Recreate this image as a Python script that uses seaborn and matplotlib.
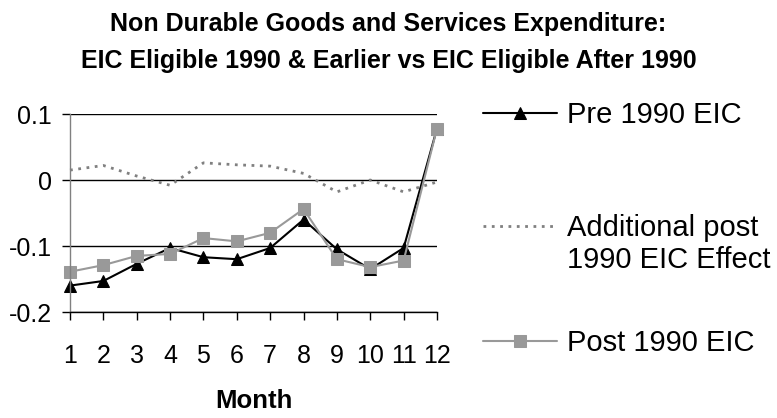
import matplotlib
matplotlib.use("Agg")
import matplotlib.pyplot as plt
import seaborn as sns
import pandas as pd

# ---- data ----
months = [1, 2, 3, 4, 5, 6, 7, 8, 9, 10, 11, 12]
month_labels = [str(m) for m in months]
pre_1990 = [-0.160, -0.153, -0.127, -0.103, -0.117, -0.120, -0.103, -0.060, -0.105, -0.135, -0.103, 0.078]
post_1990 = [-0.139, -0.129, -0.115, -0.112, -0.088, -0.093, -0.080, -0.044, -0.120, -0.132, -0.122, 0.078]
additional = [0.015, 0.022, 0.006, -0.008, 0.026, 0.023, 0.021, 0.010, -0.018, 0.000, -0.018, -0.003]
y_ticks = [-0.2, -0.1, 0.0, 0.1]
y_tick_labels = ["-0.2", "-0.1", "0", "0.1"]
series_names = ["Pre 1990 EIC", "Additional post", "Post 1990 EIC"]
additional_second_line = "1990 EIC Effect"
title = ("Non Durable Goods and Services Expenditure:\n"
         "EIC Eligible 1990 & Earlier vs EIC Eligible After 1990")

df = pd.DataFrame({"Month": months, "pre": pre_1990, "post": post_1990, "add": additional})

sns.set_theme(style="white")
plt.rcParams["font.family"] = ["Liberation Sans", "DejaVu Sans"]
plt.rcParams["axes.unicode_minus"] = False

W, H = 777, 418
fig = plt.figure(figsize=(W / 100, H / 100), dpi=100)
fig.patch.set_facecolor("white")
ax = fig.add_axes([70 / W, 1 - 312 / H, 367 / W, 198 / H])
ax.set_facecolor("white")

sns.lineplot(data=df, x="Month", y="add", ax=ax, color="#808080", lw=2,
             linestyle=(0, (1, 2)), label=series_names[1], clip_on=False)
sns.lineplot(data=df, x="Month", y="pre", ax=ax, color="black", lw=1.5,
             marker="^", markersize=9, markeredgecolor="black",
             markerfacecolor="black", label=series_names[0], clip_on=False)
sns.lineplot(data=df, x="Month", y="post", ax=ax, color="#999999", lw=1.5,
             marker="s", markersize=8, markeredgecolor="#999999",
             markerfacecolor="#999999", label=series_names[2], clip_on=False)

ax.set_xlim(1, 12)
ax.set_ylim(-0.2, 0.1)
ax.set_xticks(months)
ax.set_xticklabels(month_labels)
ax.set_yticks(y_ticks)
ax.set_yticklabels(y_tick_labels)
ax.yaxis.grid(True, color="black", lw=1)
ax.xaxis.grid(False)
ax.set_axisbelow(True)

for s in ["top", "right"]:
    ax.spines[s].set_visible(False)
ax.spines["left"].set_color("#808080")
ax.spines["left"].set_linewidth(1)
ax.spines["bottom"].set_color("black")
ax.spines["bottom"].set_linewidth(1)

ax.tick_params(axis="x", which="both", bottom=True, length=5.8, width=1,
               color="black", direction="out", pad=17, labelsize=18,
               labelcolor="black")
ax.tick_params(axis="y", which="both", left=True, length=5.8, width=1,
               color="black", direction="out", pad=7, labelsize=18,
               labelcolor="black")

ax.set_xlabel("Month", fontsize=18.5, fontweight="bold", labelpad=15, color="black")
ax.set_ylabel("")

fig.suptitle(title, x=0.5, y=1 - 12 / H, va="top", fontsize=18,
             fontweight="bold", linespacing=1.68, color="black")

# legend entries
handles, labels = ax.get_legend_handles_labels()
hmap = dict(zip(labels, handles))
ax.get_legend().remove()
fs = 21
fs_px = fs * 100 / 72
positions = {series_names[0]: 115, series_names[1]: 228, series_names[2]: 343}
for name in series_names:
    leg = fig.legend([hmap[name]], [name], loc="center left",
                     bbox_to_anchor=(483 / W, 1 - positions[name] / H),
                     frameon=False, borderpad=0, borderaxespad=0,
                     handlelength=74 / fs_px, handletextpad=10 / fs_px,
                     fontsize=fs)
    for t in leg.get_texts():
        t.set_color("black")
fig.text(567 / W, 1 - 268 / H, additional_second_line, fontsize=fs,
         ha="left", va="baseline", color="black")

fig.savefig("out.png", dpi=100, facecolor="white")
